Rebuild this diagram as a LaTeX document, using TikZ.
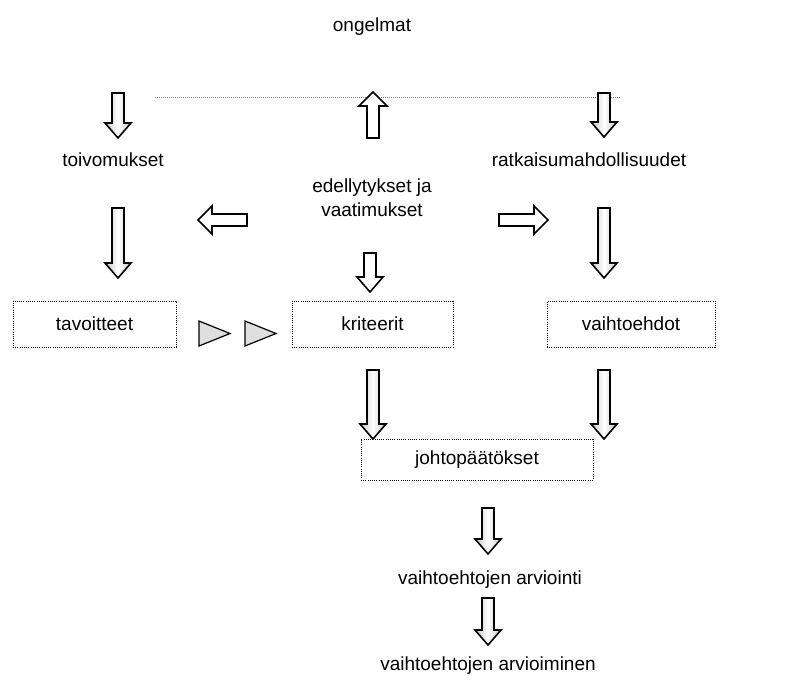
\documentclass[tikz,border=0pt]{standalone}
\usepackage{fontspec}
\setmainfont{Liberation Sans}
% block arrow pointing down: style, x, top, tip
\newcommand{\downarr}[4]{%
  \draw [#1] (#2-6,#3) -- (#2+6,#3) -- (#2+6,#4-15) -- (#2+13,#4-15) -- (#2,#4)
    -- (#2-13,#4-15) -- (#2-6,#4-15) -- cycle;}

\begin{document}
\begin{tikzpicture}[x=1pt,y=-1pt,
    every node/.style={font=\fontsize{19}{24}\selectfont, inner sep=0pt},
    dotbox/.style={draw, line width=0.8pt, dash pattern=on 0.9pt off 1.3pt,
      inner sep=0pt},
    hollow/.style={draw, line width=1.6pt, fill=white, line join=miter},
    stipple/.style={draw, line width=1.6pt, line join=miter,
      left color=gray!45, right color=gray!45, middle color=white},
    tri/.style={draw, line width=1.2pt, fill=gray!25, line join=miter}]
  \useasboundingbox (0,0) rectangle (786,686);

  \node (ongelmat) at (372,27) {ongelmat};
  \coordinate (lineL) at (155,97);
  \coordinate (lineR) at (620,97);
  \draw [gray, line width=0.8pt, dash pattern=on 0.8pt off 1.2pt] (lineL) -- (lineR);

  \node (toivo) at (113,160) {toivomukset};
  \node (ratk) at (589,160) {ratkaisumahdollisuudet};
  \node [align=center] (edell) at (372,198) {edellytykset ja\\vaatimukset};

  \node [dotbox, minimum width=163, minimum height=46] (tavoit) at (94.5,324) {tavoitteet};
  \node [dotbox, minimum width=161, minimum height=46] (krit) at (372.5,324) {kriteerit};
  \node [dotbox, minimum width=168, minimum height=46] (vaiht) at (631,324) {vaihtoehdot};
  \node [dotbox, minimum width=232, minimum height=41] (johto) at (477,459.5) {johtopäätökset};

  \node (arvioint) at (490,580) {vaihtoehtojen arviointi};
  \node (arvioim) at (488,666) {vaihtoehtojen arvioiminen};

  % down arrows
  \downarr{stipple}{118}{93}{138}
  \downarr{stipple}{604}{93}{137}
  \downarr{stipple}{118}{208}{278}
  \downarr{stipple}{604}{208}{278}
  \downarr{hollow}{370}{253}{292}
  \downarr{stipple}{373}{370}{439}
  \downarr{stipple}{604}{370}{439}
  \downarr{stipple}{488}{508}{554}
  \downarr{stipple}{488}{598}{645}

  % up arrow
  \draw [hollow] (367,138) -- (379,138) -- (379,106) -- (387,106) -- (373,92)
    -- (359,106) -- (367,106) -- cycle;
  % left and right arrows
  \draw [hollow] (247,214) -- (247,226) -- (212,226) -- (212,234) -- (198,220)
    -- (212,206) -- (212,214) -- cycle;
  \draw [hollow] (499,214) -- (499,226) -- (534,226) -- (534,234) -- (548,220)
    -- (534,206) -- (534,214) -- cycle;

  % triangles
  \draw [tri] (199,321) -- (230,333.5) -- (199,346) -- cycle;
  \draw [tri] (245,321) -- (276,333.5) -- (245,346) -- cycle;
\end{tikzpicture}
\end{document}
